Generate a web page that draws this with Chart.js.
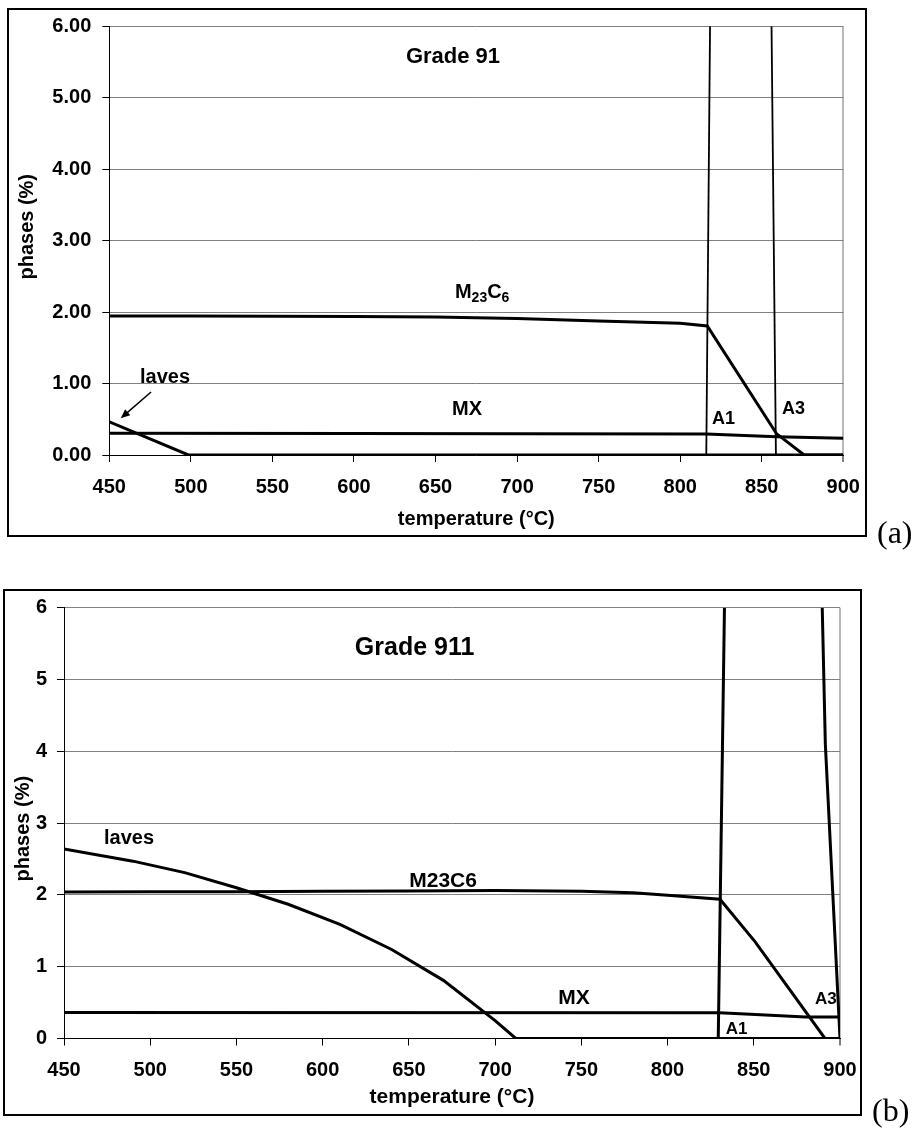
<!DOCTYPE html>
<html>
<head>
<meta charset="utf-8">
<script src="https://cdn.jsdelivr.net/npm/chart.js@4.4.0/dist/chart.umd.min.js"></script>
<style>
	body { margin: 0; background: #fff; width: 914px; height: 1129px; position: relative; overflow: hidden; }
	.box { position: absolute; border: 2px solid #000; box-sizing: border-box; }
	#boxA { left: 7px; top: 8px; width: 860px; height: 529px; }
	#boxB { left: 3px; top: 589px; width: 859px; height: 527px; }
	canvas { position: absolute; left: 0; }
	#chartA { top: 0; }
	#chartB { top: 560px; }
	.tag { position: absolute; font-family: "Liberation Serif", "Times New Roman", serif; font-size: 32px; line-height: normal; }
</style>
</head>
<body>
<div class="box" id="boxA"></div>
<div class="box" id="boxB"></div>
<canvas id="chartA" width="914" height="560"></canvas>
<canvas id="chartB" width="914" height="569"></canvas>
<div class="tag" style="left:877px; top:514px;">(a)</div>
<div class="tag" style="left:872px; top:1092px;">(b)</div>
<script>
const xTicks = [450, 500, 550, 600, 650, 700, 750, 800, 850, 900];
const yTickValues = [0, 1, 2, 3, 4, 5, 6];
const yTicksA = ["0.00", "1.00", "2.00", "3.00", "4.00", "5.00", "6.00"];
const yTicksB = ["0", "1", "2", "3", "4", "5", "6"];

// Grade 91
const m23TempA = [450, 500, 550, 600, 650, 700, 750, 800, 816.6, 859, 876, 900];
const m23A = [1.945, 1.945, 1.943, 1.94, 1.932, 1.91, 1.876, 1.843, 1.805, 0.3, 0, 0];
const mxTempA = [450, 600, 700, 816, 859, 900];
const mxA = [0.305, 0.3, 0.297, 0.294, 0.256, 0.234];
const lavesTempA = [450, 498.5, 900];
const lavesA = [0.465, 0, 0];
const a1TempA = [816, 818.3];
const a1A = [0, 6];
const a3TempA = [858.7, 856];
const a3A = [0, 6];

// Grade 911
const lavesTempB = [450, 490, 520, 550, 580, 610, 640, 670, 700, 712, 900];
const lavesB = [2.64, 2.47, 2.31, 2.1, 1.87, 1.59, 1.24, 0.81, 0.25, 0, 0];
const m23TempB = [450, 500, 550, 600, 650, 700, 750, 780, 800, 830.4, 850.7, 891.3, 900];
const m23B = [2.04, 2.045, 2.045, 2.05, 2.055, 2.06, 2.05, 2.03, 1.995, 1.94, 1.35, 0, 0];
const mxTempB = [450, 830, 848, 880, 900];
const mxB = [0.363, 0.36, 0.338, 0.3, 0.3];
const a1TempB = [829.4, 833];
const a1B = [0, 6];
const a3TempB = [900, 891.5, 889.7];
const a3B = [0, 4.1, 6];

const labelsA = [
	{ text: "Grade 91", t: 660.7, v: 5.48, size: 22, align: "center" },
	{ parts: [["M", 20, 0], ["23", 14, 4], ["C", 20, 0], ["6", 14, 4]], t: 661.9, v: 2.197 },
	{ text: "MX", t: 660.1, v: 0.56, size: 20 },
	{ text: "A1", t: 819.5, v: 0.434, size: 18 },
	{ text: "A3", t: 862.4, v: 0.574, size: 18 },
	{ text: "laves", t: 468.8, v: 1.008, size: 20 },
];
const arrowA = { from: [475.6, 0.882], to: [457, 0.514] };

const labelsB = [
	{ text: "Grade 911", t: 653.3, v: 5.343, size: 25, align: "center" },
	{ text: "laves", t: 473.2, v: 2.705, size: 20 },
	{ text: "M23C6", t: 650.2, v: 2.106, size: 21 },
	{ text: "MX", t: 736.6, v: 0.476, size: 21 },
	{ text: "A1", t: 833.7, v: 0.063, size: 17 },
	{ text: "A3", t: 885.5, v: 0.476, size: 17 },
];

const FONT = '"Liberation Sans", Arial, sans-serif';
Chart.defaults.font.family = FONT;
Chart.defaults.color = "#000";

const pts = (xs, ys) => xs.map((x, i) => ({ x, y: ys[i] }));
const line = (data, width) => ({
	data,
	borderColor: "#000",
	borderWidth: width,
	pointRadius: 0,
	tension: 0,
	fill: false,
});

const textPlugin = {
	id: "texts",
	afterDatasetsDraw(chart, args, opts) {
		const { ctx, scales } = chart;
		const { x, y } = scales;
		ctx.save();
		ctx.fillStyle = "#000";
		ctx.textBaseline = "alphabetic";
		opts.items.forEach((it) => {
			let px = x.getPixelForValue(it.t);
			const py = y.getPixelForValue(it.v);
			if (it.parts) {
				ctx.textAlign = "left";
				it.parts.forEach(([s, size, dy]) => {
					ctx.font = "bold " + size + "px " + FONT;
					ctx.fillText(s, px, py + dy);
					px += ctx.measureText(s).width;
				});
			} else {
				ctx.font = "bold " + it.size + "px " + FONT;
				ctx.textAlign = it.align || "left";
				ctx.fillText(it.text, px, py);
			}
		});
		if (opts.arrow) {
			const x0 = x.getPixelForValue(opts.arrow.from[0]);
			const y0 = y.getPixelForValue(opts.arrow.from[1]);
			const x1 = x.getPixelForValue(opts.arrow.to[0]);
			const y1 = y.getPixelForValue(opts.arrow.to[1]);
			const ang = Math.atan2(y1 - y0, x1 - x0);
			ctx.strokeStyle = "#000";
			ctx.lineWidth = 1.5;
			ctx.beginPath();
			ctx.moveTo(x0, y0);
			ctx.lineTo(x1 - 6 * Math.cos(ang), y1 - 6 * Math.sin(ang));
			ctx.stroke();
			ctx.beginPath();
			ctx.moveTo(x1, y1);
			ctx.lineTo(x1 - 10 * Math.cos(ang - 0.4), y1 - 10 * Math.sin(ang - 0.4));
			ctx.lineTo(x1 - 10 * Math.cos(ang + 0.4), y1 - 10 * Math.sin(ang + 0.4));
			ctx.closePath();
			ctx.fill();
		}
		ctx.restore();
	},
};

const makeChart = (id, cfg) => {
	const tickFont = { size: 20, weight: "bold" };
	new Chart(document.getElementById(id), {
		type: "line",
		data: { datasets: cfg.datasets },
		options: {
			responsive: false,
			animation: false,
			layout: { padding: cfg.padding },
			plugins: {
				legend: { display: false },
				tooltip: { enabled: false },
				texts: { items: cfg.labels, arrow: cfg.arrow },
			},
			scales: {
				x: {
					type: "linear",
					min: 450,
					max: 900,
					afterBuildTicks: (s) => {
						s.ticks = xTicks.map((v) => ({ value: v }));
					},
					afterFit: (s) => {
						s.height = cfg.xHeight;
					},
					ticks: { font: tickFont, padding: 13, maxRotation: 0, color: "#000" },
					grid: {
						color: (c) => (c.index === xTicks.length - 1 ? "#b8b8b8" : "rgba(0,0,0,0)"),
						lineWidth: (c) => (c.index === xTicks.length - 1 ? 2 : 1),
						tickColor: "#000",
						tickWidth: 1,
						tickLength: 7,
					},
					border: { color: "#000", width: 1 },
					title: {
						display: true,
						text: "temperature (°C)",
						font: { size: cfg.xTitleSize, weight: "bold" },
						padding: 0,
						color: "#000",
					},
				},
				y: {
					min: 0,
					max: 6,
					afterBuildTicks: (s) => {
						s.ticks = yTickValues.map((v) => ({ value: v }));
					},
					afterFit: (s) => {
						s.width = cfg.yWidth;
					},
					ticks: {
						font: tickFont,
						padding: cfg.yPad,
						color: "#000",
						callback: (v, i) => cfg.yLabels[i],
					},
					grid: { color: "#808080", lineWidth: 1, tickColor: "#000", tickWidth: 1, tickLength: 7 },
					border: { color: "#000", width: 1 },
					title: {
						display: true,
						text: cfg.yTitle,
						font: { size: 20, weight: "bold" },
						padding: 0,
						color: "#000",
					},
				},
			},
		},
		plugins: [textPlugin],
	});
};

makeChart("chartA", {
	datasets: [
		line(pts(m23TempA, m23A), 3),
		line(pts(mxTempA, mxA), 3),
		line(pts(lavesTempA, lavesA), 3),
		line(pts(a1TempA, a1A), 1.8),
		line(pts(a3TempA, a3A), 1.8),
	],
	padding: { left: 15.4, right: 70.7, top: 26.3, bottom: 28.4 },
	xHeight: 76.6,
	yWidth: 93.9,
	yPad: 11,
	yLabels: yTicksA,
	xTitleSize: 20,
	yTitle: "     phases (%)",
	labels: labelsA,
	arrow: arrowA,
});

makeChart("chartB", {
	datasets: [
		line(pts(lavesTempB, lavesB), 3),
		line(pts(m23TempB, m23B), 3),
		line(pts(mxTempB, mxB), 3),
		line(pts(a1TempB, a1B), 3),
		line(pts(a3TempB, a3B), 3),
	],
	padding: { left: 11, right: 74, top: 47.7, bottom: 18.8 },
	xHeight: 71.7,
	yWidth: 53,
	yPad: 10,
	yLabels: yTicksB,
	xTitleSize: 21,
	yTitle: "phases (%)  ",
	labels: labelsB,
	arrow: null,
});
</script>
</body>
</html>
